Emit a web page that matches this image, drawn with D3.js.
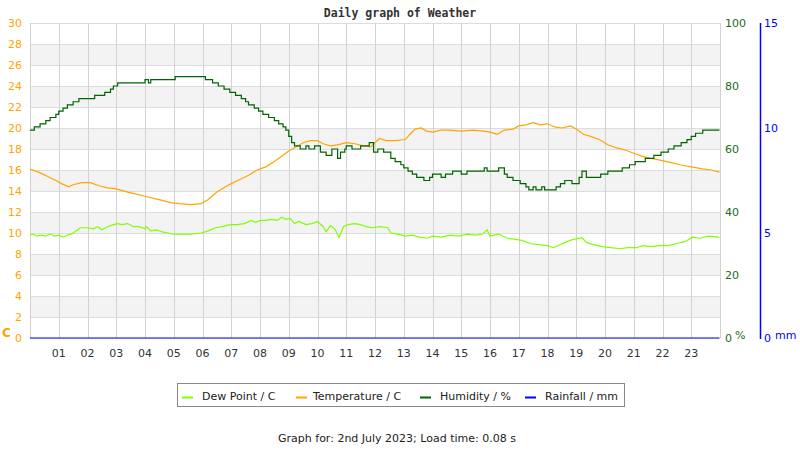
<!DOCTYPE html>
<html>
<head>
<meta charset="utf-8">
<script src="https://cdn.jsdelivr.net/npm/d3@7"></script>
<style>
  body { margin: 0; background: #fff; }
  svg { font-family: "DejaVu Sans", sans-serif; }
</style>
</head>
<body>
<svg width="800" height="450"></svg>
<script>
// hour labels along the bottom
const hourLabels = ['01','02','03','04','05','06','07','08','09','10','11','12',
                    '13','14','15','16','17','18','19','20','21','22','23'];

// temperature / C  (time in hours)
const tempTimes = [0,0.3,0.6,0.9,1.1,1.35,1.5,1.8,2.1,2.4,2.7,3.0,3.4,3.7,4.0,4.3,4.6,4.9,5.2,5.6,5.95,
  6.2,6.5,6.8,7.0,7.3,7.6,7.9,8.2,8.5,8.8,9.0,9.25,9.5,9.75,10.0,10.2,10.45,10.7,11.0,11.3,11.6,11.85,
  12.0,12.15,12.4,12.7,13.05,13.25,13.4,13.6,13.8,14.0,14.3,14.6,15.0,15.4,15.8,16.0,16.25,16.5,16.8,
  17.0,17.25,17.5,17.75,18.0,18.25,18.5,18.8,19.0,19.25,19.5,19.8,20.1,20.4,20.7,21.0,21.3,21.6,22.0,
  22.3,22.6,23.0,23.4,23.7,23.98];
const tempValues = [16.1,15.8,15.4,15.0,14.7,14.4,14.6,14.8,14.8,14.5,14.3,14.2,13.9,13.7,13.5,13.3,13.1,12.9,12.8,12.7,12.8,
  13.2,13.9,14.4,14.7,15.1,15.5,16.0,16.3,16.8,17.4,17.8,18.2,18.6,18.8,18.8,18.5,18.3,18.4,18.6,18.5,18.3,18.2,
  18.6,19.0,18.8,18.8,18.9,19.5,19.9,20.0,19.7,19.6,19.8,19.8,19.7,19.8,19.7,19.6,19.4,19.8,19.9,
  20.2,20.3,20.5,20.3,20.4,20.1,20.0,20.2,19.9,19.4,19.2,18.9,18.4,18.1,17.9,17.6,17.3,17.1,16.9,
  16.7,16.5,16.3,16.1,16.0,15.8];

// dew point / C
const dewTimes = [0,0.1,0.25,0.4,0.55,0.7,0.85,1.0,1.15,1.3,1.45,1.6,1.75,2.0,2.2,2.35,2.5,2.7,2.9,3.05,3.2,3.4,
  3.6,3.8,4.0,4.05,4.2,4.4,4.6,4.8,5.0,5.3,5.6,5.95,6.2,6.45,6.7,6.95,7.2,7.45,7.7,7.85,8.0,8.2,8.4,8.6,
  8.75,8.9,9.05,9.2,9.35,9.6,9.8,10.0,10.2,10.3,10.45,10.6,10.75,10.9,11.05,11.3,11.5,11.7,11.9,12.2,
  12.45,12.55,12.8,13.05,13.3,13.55,13.8,14.0,14.3,14.6,14.9,15.2,15.5,15.75,15.9,16.0,16.3,16.6,16.9,
  17.1,17.4,17.7,18.0,18.2,18.45,18.7,18.9,19.2,19.35,19.6,19.9,20.2,20.5,20.8,21.1,21.3,21.6,21.9,
  22.2,22.5,22.8,23.05,23.3,23.6,23.98];
const dewValues = [9.8,9.9,9.7,9.8,9.7,9.9,9.7,9.8,9.6,9.8,9.9,10.2,10.5,10.5,10.4,10.6,10.3,10.6,10.8,10.9,10.8,10.9,
  10.6,10.6,10.4,10.6,10.2,10.3,10.1,10.0,9.9,9.9,9.9,10.0,10.2,10.5,10.6,10.8,10.8,10.9,11.2,11.0,11.2,11.2,11.3,11.2,
  11.5,11.3,11.4,10.9,11.1,10.8,10.9,11.1,10.6,10.1,10.7,10.4,9.6,10.6,10.8,10.9,10.8,10.6,10.5,10.6,
  10.5,10.0,9.9,9.7,9.8,9.6,9.5,9.7,9.6,9.8,9.7,9.9,9.8,9.9,10.3,9.7,9.9,9.5,9.4,
  9.3,9.0,8.9,8.8,8.6,8.9,9.2,9.4,9.55,9.1,8.9,8.7,8.6,8.5,8.6,8.6,8.8,8.7,8.8,
  8.8,9.0,9.2,9.6,9.5,9.7,9.6];

// humidity / %
const humTimes = [0,0.15,0.35,0.55,0.7,0.9,1.0,1.15,1.3,1.5,1.7,2.25,2.6,2.8,2.9,3.05,4.0,4.12,4.2,5.05,6.1,6.35,
  6.55,6.75,6.95,7.15,7.35,7.5,7.6,7.8,7.95,8.1,8.3,8.5,8.65,8.8,8.9,9.0,9.1,9.2,9.4,9.6,9.7,9.9,10.1,
  10.3,10.5,10.7,10.8,10.95,11.0,11.2,11.5,11.8,11.95,12.1,12.3,12.55,12.7,12.9,13.0,13.15,13.3,13.45,
  13.7,13.9,14.0,14.3,14.45,14.7,15.0,15.2,15.8,15.9,16.3,16.5,16.6,16.8,17.05,17.25,17.35,17.5,17.6,
  17.8,17.9,18.3,18.45,18.6,18.85,19.1,19.2,19.35,19.85,20.1,20.6,20.85,21.05,21.4,21.7,21.95,22.2,
  22.4,22.65,22.85,23.0,23.15,23.4,23.98];
const humValues = [66,67,68,69,70,71,72,73,74,75,76,77,78,79,80,81,82,81,82,83,82,81,
  80,79,78,77,76,75,74,73,72,71,70,69,68,67,66,64,62,61,60,61,60,61,59,
  58,60,57,59,60,61,60,61,62,59,60,59,57,56,55,54,53,52,51,
  50,51,52,51,52,53,52,53,54,53,54,52,51,50,49,48,47,48,47,
  48,47,48,49,50,49,51,53,51,52,53,54,55,56,57,58,59,60,
  61,62,63,64,65,66,66];

// rainfall / mm
const rainTimes = [0, 23.98];
const rainValues = [0, 0];

const tempTicks = d3.range(0, 31, 2);
const humTicks = [0, 20, 40, 60, 80, 100];
const rainTicks = [0, 5, 10, 15];

const svg = d3.select('svg');
const L = 30, R = 720, T = 23, B = 338;

const x = d3.scaleLinear().domain([0, 24]).range([L, R]);
const yT = d3.scaleLinear().domain([0, 30]).range([B, T]);
const yH = d3.scaleLinear().domain([0, 100]).range([B, T]);
const yR = d3.scaleLinear().domain([0, 15]).range([B, T]);

// alternating bands
svg.append('g').selectAll('rect')
  .data(d3.range(2, 30, 4))
  .join('rect')
  .attr('x', L).attr('width', R - L)
  .attr('y', d => yT(d + 2)).attr('height', d => yT(d) - yT(d + 2))
  .attr('fill', '#f3f3f3');

// grid
svg.append('g').selectAll('line')
  .data(tempTicks)
  .join('line')
  .attr('x1', L).attr('x2', R)
  .attr('y1', d => yT(d) + 0.5).attr('y2', d => yT(d) + 0.5)
  .attr('stroke', '#dcdcdc');
svg.append('g').selectAll('line')
  .data(d3.range(0, 25))
  .join('line')
  .attr('x1', d => Math.round(x(d)) + 0.5).attr('x2', d => Math.round(x(d)) + 0.5)
  .attr('y1', T).attr('y2', B)
  .attr('stroke', '#d2d2d2');

// hour labels
svg.append('g').selectAll('text')
  .data(hourLabels)
  .join('text')
  .attr('x', (d, i) => x(i + 1))
  .attr('y', 357)
  .attr('text-anchor', 'middle')
  .attr('font-size', 11)
  .attr('fill', '#333')
  .text(d => d);

// left axis (C)
svg.append('g').selectAll('text')
  .data(tempTicks)
  .join('text')
  .attr('x', 22).attr('y', d => yT(d) + 4)
  .attr('text-anchor', 'end')
  .attr('font-size', 11)
  .attr('fill', '#ffa500')
  .text(d => d);
svg.append('text').attr('x', 2).attr('y', 337)
  .attr('font-size', 12).attr('font-weight', 'bold')
  .attr('fill', '#ffa500').text('C');

// right axis (%)
svg.append('g').selectAll('text')
  .data(humTicks)
  .join('text')
  .attr('x', 725).attr('y', d => yH(d) + 4)
  .attr('font-size', 11)
  .attr('fill', '#1a6b1a')
  .text(d => d);
svg.append('text').attr('x', 735).attr('y', 339)
  .attr('font-size', 11).attr('fill', '#1a6b1a').text('%');

// rainfall axis (mm)
svg.append('line')
  .attr('x1', 760.5).attr('x2', 760.5).attr('y1', T).attr('y2', B + 1)
  .attr('stroke', '#0000ff').attr('stroke-width', 1.5);
svg.append('g').selectAll('text')
  .data(rainTicks)
  .join('text')
  .attr('x', 764).attr('y', d => yR(d) + 4)
  .attr('font-size', 11)
  .attr('fill', '#0000ff')
  .text(d => d);
svg.append('text').attr('x', 775).attr('y', 339)
  .attr('font-size', 11).attr('fill', '#0000ff').text('mm');

// series
function draw(times, values, y, color, curve) {
  const line = d3.line()
    .x((d, i) => x(times[i]))
    .y(d => y(d))
    .curve(curve);
  svg.append('path')
    .datum(values)
    .attr('d', line)
    .attr('fill', 'none')
    .attr('stroke', color)
    .attr('stroke-width', 1.2);
}
draw(dewTimes, dewValues, yT, '#80ff00', d3.curveLinear);
draw(tempTimes, tempValues, yT, '#ffa500', d3.curveLinear);
draw(humTimes, humValues, yH, '#006400', d3.curveStepAfter);
draw(rainTimes, rainValues, yR, '#0000ff', d3.curveLinear);

// title
svg.append('text')
  .attr('x', 400).attr('y', 17)
  .attr('text-anchor', 'middle')
  .style('font-family', '"DejaVu Sans Mono", monospace')
  .attr('font-weight', 'bold')
  .attr('font-size', 11.5)
  .attr('fill', '#333')
  .text('Daily graph of Weather');

// legend
const legendItems = [
  { name: 'Dew Point / C', color: '#80ff00', sx: 182, tx: 202 },
  { name: 'Temperature / C', color: '#ffa500', sx: 296, tx: 313 },
  { name: 'Humidity / %', color: '#006400', sx: 420, tx: 440 },
  { name: 'Rainfall / mm', color: '#0000ff', sx: 525, tx: 545 }
];
svg.append('rect')
  .attr('x', 177.5).attr('y', 383.5).attr('width', 447).attr('height', 23)
  .attr('fill', 'none').attr('stroke', '#888');
const lg = svg.append('g').selectAll('g').data(legendItems).join('g');
lg.append('line')
  .attr('x1', d => d.sx).attr('x2', d => d.sx + 11)
  .attr('y1', 397.5).attr('y2', 397.5)
  .attr('stroke', d => d.color).attr('stroke-width', 2);
lg.append('text')
  .attr('x', d => d.tx).attr('y', 400)
  .attr('font-size', 11).attr('fill', '#222')
  .text(d => d.name);

// footer
svg.append('text')
  .attr('x', 397).attr('y', 442)
  .attr('text-anchor', 'middle')
  .attr('font-size', 11).attr('fill', '#222')
  .text('Graph for: 2nd July 2023; Load time: 0.08 s');
</script>
</body>
</html>
